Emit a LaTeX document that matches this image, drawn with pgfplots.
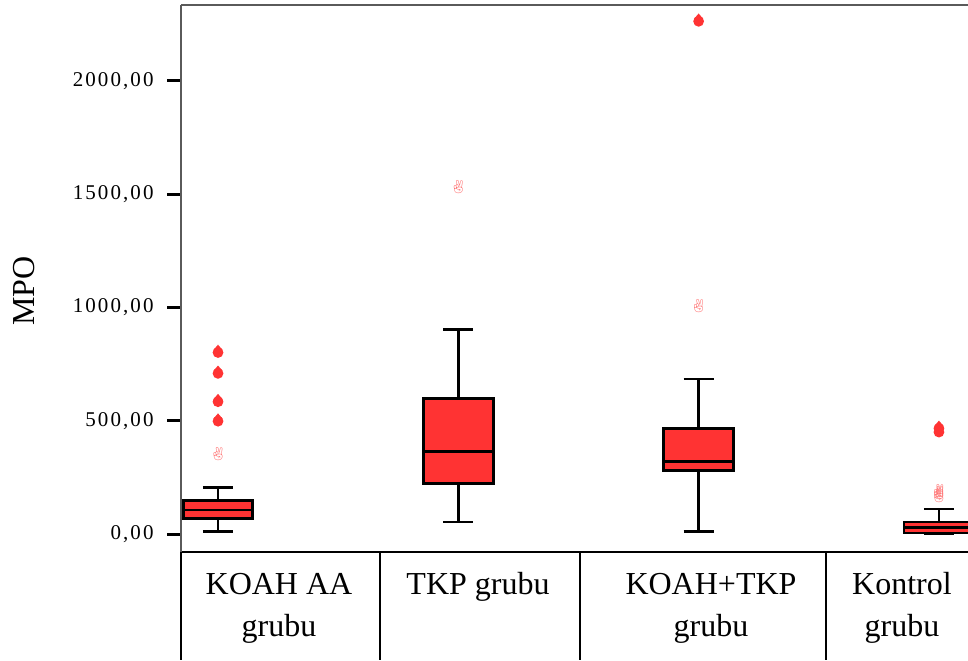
\documentclass[border=0pt]{standalone}
\usepackage{pgfplots}
\pgfplotsset{compat=1.18}
\usepackage{fontspec}
\setmainfont{Liberation Serif}
\newfontfamily\emojifont{Noto Emoji}
\definecolor{boxred}{RGB}{255,51,51}
\definecolor{outpink}{RGB}{255,110,110}
\definecolor{axgray}{RGB}{90,90,90}

% SPSS-like "extreme" marker: a small drop
\pgfdeclareplotmark{drop}{%
  \pgfpathcircle{\pgfpoint{0pt}{0pt}}{\pgfplotmarksize}%
  \pgfusepathqfill
  \pgfpathmoveto{\pgfpoint{-0.9\pgfplotmarksize}{0.4\pgfplotmarksize}}%
  \pgfpathlineto{\pgfpoint{0pt}{1.45\pgfplotmarksize}}%
  \pgfpathlineto{\pgfpoint{0.9\pgfplotmarksize}{0.4\pgfplotmarksize}}%
  \pgfpathclose
  \pgfusepathqfill}

% box: position, lower whisker, Q1, median, Q3, upper whisker
\newcommand{\spssbox}[6]{%
  \pgfmathsetmacro\bxL{#1-0.145}\pgfmathsetmacro\bxR{#1+0.145}%
  \pgfmathsetmacro\cpL{#1-0.0625}\pgfmathsetmacro\cpR{#1+0.0625}%
  \addplot[black, line width=1.4pt] coordinates {(#1,#2) (#1,#6)};
  \addplot[black, line width=1.4pt] coordinates {(\cpL,#2) (\cpR,#2)};
  \addplot[black, line width=1.4pt] coordinates {(\cpL,#6) (\cpR,#6)};
  \addplot[draw=black, fill=boxred, line width=1.4pt]
    coordinates {(\bxL,#3) (\bxR,#3) (\bxR,#5) (\bxL,#5)} -- cycle;
  \addplot[black, line width=1.4pt] coordinates {(\bxL,#4) (\bxR,#4)};
}

\begin{document}
\begin{tikzpicture}
\useasboundingbox (0,0) rectangle (484pt,330pt);
\begin{axis}[
    at={(90.5pt,54pt)}, anchor=south west,
    width=393.5pt, height=273.5pt, scale only axis,
    xmin=-0.154, xmax=3.121, ymin=-79, ymax=2334,
    axis x line*=bottom, axis y line*=left,
    x axis line style={black, line width=1pt, -},
    y axis line style={axgray, line width=1pt, -},
    xtick=\empty,
    ytick={0,500,1000,1500,2000},
    tick align=outside, major tick length=7pt,
    tick style={black, line width=1.5pt},
    major tick style={black, line width=1.5pt},
    /pgf/number format/fixed, /pgf/number format/fixed zerofill,
    /pgf/number format/precision=2, /pgf/number format/use comma,
    /pgf/number format/1000 sep={}, /pgf/number format/assume math mode=true,
    yticklabel style={font=\fontsize{10.5}{12}\selectfont\addfontfeature{LetterSpace=10},
        inner sep=0pt, xshift=-6.5pt},
]
\spssbox{0}{13}{70}{106}{147}{206}
\spssbox{1}{53}{222}{365}{598}{904}
\spssbox{2}{13}{281}{322}{466}{684}
\spssbox{3}{0}{5}{30}{53}{111}
% extremes
\addplot[only marks, mark=drop, mark size=2.7pt, color=boxred]
  coordinates {(0,801) (0,709) (0,584) (0,498) (2,2262) (3,450) (3,466)};
% outliers
\addplot[only marks, mark=text, color=outpink,
    text mark={\emojifont\fontsize{6.5}{6.5}\selectfont\color{outpink}✌}]
  coordinates {(0,353) (1,1531) (2,1008) (3,192) (3,181) (3,170)};
\end{axis}
% top frame line
\draw[axgray, line width=1pt] (90.5pt,327.5pt) -- (484pt,327.5pt);
% label table
\draw[black, line width=1pt] (90.5pt,54pt) -- (90.5pt,0pt)
  (190pt,54pt) -- (190pt,0pt) (290pt,54pt) -- (290pt,0pt) (413pt,54pt) -- (413pt,0pt);
\begin{scope}[every node/.style={anchor=base, inner sep=0pt, font=\fontsize{16}{19}\selectfont}]
\node at (139.5pt,33pt) {KOAH AA};
\node at (139.5pt,12pt) {grubu};
\node at (239pt,33pt) {TKP grubu};
\node at (355.5pt,33pt) {KOAH+TKP};
\node at (355.5pt,12pt) {grubu};
\node at (451pt,33pt) {Kontrol};
\node at (451pt,12pt) {grubu};
\end{scope}
\node[rotate=90, font=\fontsize{16}{19}\selectfont, inner sep=0pt] at (12pt,184.5pt) {MPO};
\end{tikzpicture}
\end{document}
